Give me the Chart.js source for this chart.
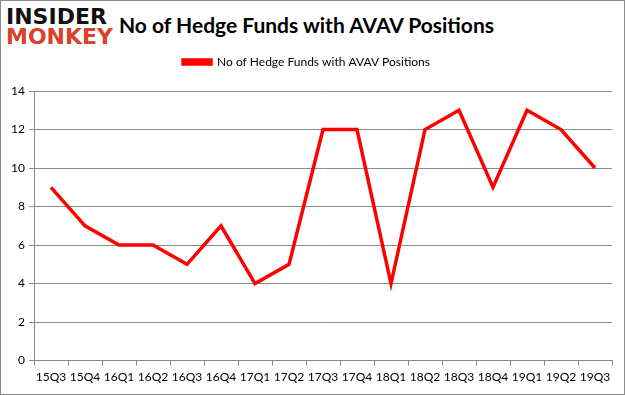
<!DOCTYPE html>
<html>
<head>
<meta charset="utf-8">
<script src="https://cdn.jsdelivr.net/npm/chart.js@4.4.0/dist/chart.umd.min.js"></script>
<style>
  html, body { margin: 0; padding: 0; background: #fff; }
  #wrap { position: relative; width: 625px; height: 395px; box-sizing: border-box; border: 1px solid #8c8c8c; overflow: hidden; }
  #logo { position: absolute; left: 5px; top: 6px; font-family: "DejaVu Sans", sans-serif; font-weight: bold; line-height: 20px; font-size: 22px; }
  #logo .a { color: #111; }
  #logo .b { color: #d9412b; }
  #title { position: absolute; left: 118px; top: 11px; font-family: Lato, "Open Sans", sans-serif; font-weight: bold; font-size: 21px; color: #000; }
  canvas { position: absolute; left: 0; top: 0; }
</style>
</head>
<body>
<div id="wrap">
  <div id="logo"><div class="a">INSIDER</div><div class="b">MONKEY</div></div>
  <div id="title">No of Hedge Funds with AVAV Positions</div>
  <canvas id="c" width="623" height="393"></canvas>
</div>
<script>
const quarters = ['15Q3','15Q4','16Q1','16Q2','16Q3','16Q4','17Q1','17Q2','17Q3','17Q4','18Q1','18Q2','18Q3','18Q4','19Q1','19Q2','19Q3'];
const hedgeFunds = [9, 7, 6, 6, 5, 7, 4, 5, 12, 12, 4, 12, 13, 9, 13, 12, 10];
const yTicks = [0, 2, 4, 6, 8, 10, 12, 14];

const gridGray = '#8a8a8a';
const tickFont = { family: 'Lato, "Open Sans", sans-serif', size: 12 };

// extra empty room under the legend, so the plot starts lower
const legendGap = {
  id: 'legendGap',
  afterInit(chart) {
    const fit = chart.legend.fit;
    chart.legend.fit = function () {
      fit.call(this);
      this.height += 13;
    };
  }
};

new Chart(document.getElementById('c'), {
  type: 'line',
  data: {
    labels: quarters,
    datasets: [{
      label: 'No of Hedge Funds with AVAV Positions',
      data: hedgeFunds,
      borderColor: '#ff0000',
      backgroundColor: '#ff0000',
      borderWidth: 3.5,
      pointRadius: 0,
      tension: 0
    }]
  },
  options: {
    responsive: false,
    animation: false,
    layout: { padding: { top: 45, right: 12, bottom: 6, left: 0 } },
    plugins: {
      legend: {
        position: 'top',
        labels: {
          boxWidth: 28,
          boxHeight: 4,
          color: '#000',
          font: { family: 'Lato, "Open Sans", sans-serif', size: 12 },
          padding: 10
        }
      },
      tooltip: { enabled: false }
    },
    scales: {
      x: {
        offset: true,
        grid: {
          offset: true,
          drawOnChartArea: false,
          drawTicks: true,
          tickLength: 5,
          color: gridGray
        },
        border: { color: gridGray, width: 1 },
        ticks: { color: '#000', font: tickFont, maxRotation: 0, autoSkip: false, padding: 4 }
      },
      y: {
        min: 0,
        max: 14,
        afterBuildTicks: scale => { scale.ticks = yTicks.map(v => ({ value: v })); },
        afterFit: scale => { scale.width = 33; },
        grid: { color: gridGray, tickLength: 5 },
        border: { color: gridGray, width: 1 },
        ticks: { color: '#000', font: tickFont, padding: 4 }
      }
    }
  },
  plugins: [legendGap]
});
</script>
</body>
</html>
